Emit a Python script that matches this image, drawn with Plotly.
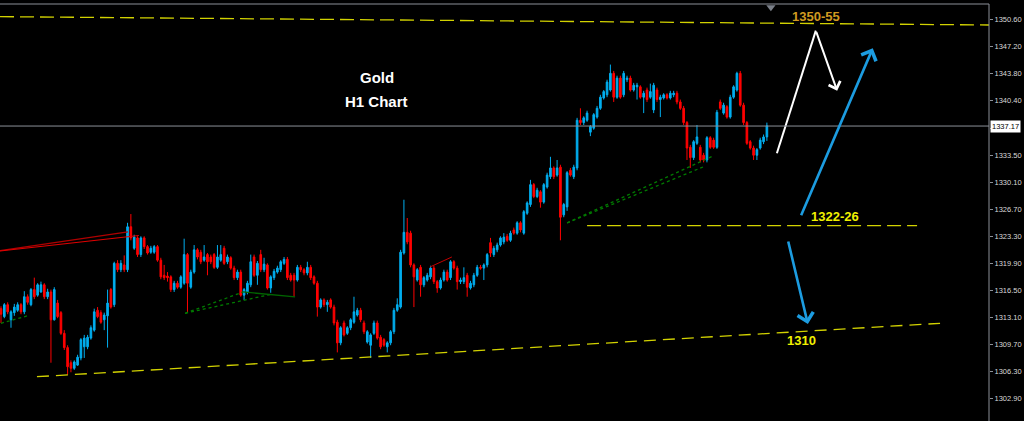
import plotly.graph_objects as go

# ---------------- data (prices) ----------------
OPEN = [
 1314.2,1313.2,1314.7,1312.8,1313.7,1314.0,1314.7,1313.8,1315.7,1314.7,
 1316.6,1315.9,1316.3,1317.2,1315.7,1316.3,1312.8,1314.9,1313.7,1311.1,
 1309.3,1307.4,1306.7,1307.1,1308.0,1309.4,1309.4,1310.5,1311.5,1314.0,
 1313.7,1312.8,1313.3,1316.6,1314.7,1319.9,1319.1,1319.7,1319.1,1324.5,
 1321.8,1323.1,1321.0,1323.1,1322.0,1321.3,1321.3,1322.0,1320.3,1318.4,
 1318.3,1318.2,1316.6,1317.4,1316.9,1317.4,1321.0,1316.9,1318.8,1321.6,
 1321.3,1320.3,1321.0,1320.7,1321.0,1319.4,1320.3,1321.8,1320.1,1320.6,
 1319.3,1318.1,1318.8,1315.9,1316.3,1317.2,1320.7,1318.4,1321.0,1319.1,
 1319.7,1316.8,1318.1,1318.8,1319.1,1319.9,1320.4,1318.4,1318.4,1317.8,
 1319.4,1319.1,1318.7,1319.4,1318.2,1317.4,1314.4,1315.3,1314.7,1315.3,
 1314.4,1312.5,1309.9,1312.4,1311.1,1311.8,1312.5,1313.4,1314.0,1312.4,
 1310.0,1309.6,1311.1,1312.4,1310.6,1310.3,1309.4,1309.9,1311.3,1314.0,
 1314.4,1321.2,1323.8,1323.7,1319.7,1317.8,1319.4,1317.2,1317.8,1318.2,
 1319.3,1317.6,1316.8,1317.8,1318.8,1318.1,1320.1,1319.3,1317.6,1317.6,
 1318.4,1316.8,1317.2,1318.4,1319.4,1319.3,1319.7,1322.5,1321.0,1321.6,
 1322.2,1322.6,1323.3,1322.8,1324.1,1323.7,1325.0,1323.7,1326.2,1327.3,
 1329.8,1328.3,1328.9,1327.6,1329.5,1330.8,1331.9,1331.0,1332.0,1326.0,
 1327.0,1331.6,1330.8,1331.9,1337.9,1337.6,1337.9,1336.4,1336.9,1338.3,
 1339.4,1340.7,1341.1,1341.7,1343.8,1340.8,1343.2,1341.1,1343.0,1343.2,
 1341.7,1342.1,1342.1,1340.8,1341.7,1340.8,1339.2,1341.7,1340.5,1340.7,
 1341.1,1340.7,1341.1,1341.3,1340.2,1339.4,1337.6,1334.5,1333.2,1335.0,
 1334.5,1333.5,1332.9,1335.7,1335.4,1334.5,1340.2,1338.8,1339.6,1338.3,
 1340.8,1341.7,1343.8,1339.8,1337.6,1335.2,1334.4,1333.5,1334.4,1335.2,
 1335.8]

HIGH = [
 1314.5,1314.9,1315.0,1314.0,1314.8,1315.0,1314.9,1316.4,1316.0,1316.8,
 1318.1,1317.4,1317.6,1317.4,1316.7,1316.6,1316.9,1315.3,1313.9,1311.5,
 1309.6,1307.7,1307.7,1308.4,1310.5,1310.9,1310.9,1312.1,1314.2,1314.4,
 1314.0,1313.7,1316.6,1316.8,1320.1,1320.3,1320.3,1320.9,1325.0,1326.1,
 1323.5,1323.3,1323.3,1323.3,1322.2,1322.1,1322.2,1322.2,1320.6,1319.7,
 1318.8,1318.4,1317.7,1317.7,1318.4,1323.0,1321.2,1319.1,1322.2,1321.8,
 1321.6,1322.2,1321.2,1321.0,1321.2,1322.2,1322.2,1322.1,1321.0,1320.8,
 1319.6,1319.1,1319.1,1316.8,1317.7,1321.0,1321.0,1320.2,1321.6,1320.6,
 1319.9,1318.4,1319.2,1319.6,1320.3,1320.7,1320.7,1318.7,1318.7,1319.7,
 1319.7,1319.3,1320.1,1319.7,1318.4,1317.7,1315.5,1315.5,1315.3,1315.5,
 1314.7,1312.8,1312.0,1312.7,1312.0,1313.0,1315.7,1314.3,1314.3,1312.7,
 1311.5,1311.1,1312.7,1312.7,1310.9,1310.5,1310.1,1311.5,1314.3,1315.5,
 1321.6,1327.9,1325.6,1324.0,1319.9,1319.3,1319.7,1318.3,1318.7,1319.6,
 1319.6,1317.8,1318.1,1319.1,1319.1,1320.3,1320.3,1319.6,1318.1,1319.4,
 1318.7,1317.7,1318.7,1319.7,1319.7,1319.9,1321.2,1323.1,1322.1,1322.5,
 1323.3,1323.7,1323.6,1324.0,1324.4,1325.2,1325.2,1326.6,1327.7,1330.4,
 1330.0,1329.4,1329.1,1330.0,1331.3,1333.3,1332.1,1332.9,1332.3,1327.5,
 1331.5,1331.9,1332.3,1338.2,1339.4,1338.4,1339.1,1337.3,1338.8,1339.7,
 1341.1,1341.7,1343.0,1344.9,1344.1,1343.5,1343.5,1344.1,1343.5,1343.5,
 1342.6,1342.6,1342.3,1341.6,1342.0,1342.5,1342.6,1342.0,1341.1,1341.3,
 1341.3,1341.6,1341.6,1341.6,1340.5,1339.7,1337.8,1334.8,1335.4,1337.3,
 1334.8,1333.8,1335.9,1335.9,1335.7,1339.2,1340.5,1340.1,1339.8,1341.1,
 1342.3,1344.0,1344.1,1340.1,1337.8,1335.4,1334.7,1334.4,1335.7,1336.1,
 1337.6]

LOW = [
 1312.4,1313.0,1313.5,1311.8,1313.3,1313.8,1313.5,1313.5,1314.7,1314.5,
 1315.4,1315.7,1316.2,1315.4,1315.4,1307.4,1312.7,1313.0,1310.9,1309.0,
 1305.9,1306.2,1306.5,1307.0,1307.7,1308.0,1309.1,1310.3,1311.3,1313.0,
 1312.3,1311.5,1309.3,1314.2,1314.4,1318.8,1318.8,1318.8,1318.8,1322.8,
 1321.6,1320.7,1320.7,1321.7,1321.0,1321.1,1321.1,1320.1,1317.9,1317.8,
 1317.6,1316.3,1316.3,1316.7,1316.7,1317.2,1313.7,1316.7,1318.6,1320.4,
 1319.8,1320.1,1318.4,1319.8,1319.2,1319.2,1320.1,1319.7,1319.8,1319.1,
 1317.8,1317.8,1315.7,1315.3,1316.0,1316.9,1318.2,1317.2,1318.8,1318.8,
 1316.6,1316.2,1317.8,1318.6,1318.8,1319.7,1317.8,1317.6,1315.7,1317.6,
 1318.8,1318.4,1318.4,1317.8,1317.2,1313.2,1314.2,1314.4,1313.8,1314.2,
 1312.1,1308.7,1309.6,1310.7,1310.9,1311.5,1312.3,1313.2,1312.5,1311.0,
 1309.8,1308.0,1310.9,1310.3,1309.1,1309.4,1308.7,1309.6,1311.0,1313.8,
 1314.2,1321.0,1322.3,1319.4,1314.4,1317.6,1315.7,1316.9,1317.6,1317.9,
 1317.3,1316.2,1316.6,1317.6,1317.6,1317.8,1319.1,1316.6,1317.3,1317.3,
 1315.7,1316.6,1316.9,1318.2,1319.1,1317.8,1319.4,1320.7,1320.7,1321.3,
 1322.0,1322.3,1322.6,1322.6,1323.5,1323.5,1323.8,1323.5,1326.0,1327.0,
 1328.1,1328.1,1326.9,1327.4,1329.3,1330.5,1330.5,1330.8,1322.8,1325.7,
 1326.5,1330.8,1330.5,1331.6,1337.3,1337.3,1337.7,1335.9,1336.7,1338.1,
 1339.2,1340.5,1340.8,1341.5,1340.2,1340.6,1340.6,1340.8,1342.7,1341.5,
 1341.5,1340.5,1340.6,1338.8,1340.2,1340.6,1338.8,1340.2,1338.3,1340.5,
 1340.5,1340.5,1340.8,1339.9,1339.2,1337.3,1332.9,1331.9,1332.9,1334.8,
 1332.6,1332.6,1332.6,1334.3,1334.3,1334.3,1339.2,1338.6,1338.1,1338.1,
 1340.6,1341.5,1339.6,1337.3,1334.8,1334.2,1332.9,1332.9,1334.2,1334.9,
 1335.3]

CLOSE = [
 1313.5,1314.7,1313.8,1313.8,1314.4,1314.7,1313.8,1315.7,1315.0,1316.6,
 1315.7,1317.2,1317.2,1315.7,1316.3,1312.8,1316.6,1313.2,1311.1,1309.3,
 1306.9,1306.7,1307.5,1308.1,1310.3,1310.5,1310.6,1311.8,1313.8,1313.2,
 1312.5,1313.4,1314.9,1314.4,1319.9,1319.1,1319.9,1319.1,1324.5,1323.1,
 1323.2,1321.0,1323.1,1322.0,1321.2,1321.8,1322.0,1320.3,1318.2,1318.1,
 1318.1,1316.6,1317.4,1316.9,1318.2,1321.0,1317.4,1318.8,1321.6,1320.7,
 1320.1,1320.7,1320.1,1320.1,1319.4,1320.7,1321.0,1319.9,1320.7,1319.3,
 1318.1,1318.8,1315.9,1316.6,1317.4,1320.1,1318.4,1319.9,1319.1,1319.8,
 1316.8,1318.2,1318.9,1319.3,1320.1,1320.4,1318.1,1317.8,1317.8,1319.4,
 1319.1,1318.7,1319.4,1318.1,1317.4,1314.4,1315.3,1314.7,1315.0,1314.4,
 1312.4,1309.9,1311.8,1310.9,1311.8,1312.8,1313.8,1314.0,1312.8,1311.3,
 1311.3,1310.9,1312.4,1310.5,1309.4,1309.6,1309.9,1311.3,1314.0,1314.7,
 1321.3,1323.8,1322.6,1319.7,1318.2,1319.1,1317.2,1318.1,1318.4,1319.3,
 1317.6,1316.8,1317.8,1318.8,1317.8,1320.1,1319.3,1317.6,1317.8,1318.1,
 1316.9,1317.4,1318.4,1319.4,1319.3,1319.7,1321.0,1321.2,1321.8,1322.2,
 1323.1,1323.2,1322.8,1323.7,1323.7,1325.0,1324.1,1326.4,1327.5,1329.8,
 1328.3,1329.1,1327.6,1329.8,1331.0,1331.9,1330.8,1331.9,1325.7,1327.3,
 1331.3,1331.0,1332.0,1337.9,1337.6,1338.2,1338.8,1337.1,1338.6,1339.4,
 1340.8,1341.5,1342.7,1343.8,1340.8,1343.2,1340.8,1343.8,1343.2,1341.7,
 1342.3,1342.3,1340.8,1341.3,1340.5,1341.5,1342.3,1340.5,1340.8,1341.1,
 1340.7,1341.3,1341.3,1340.2,1339.4,1337.6,1334.4,1333.2,1335.2,1335.8,
 1332.9,1332.9,1335.7,1334.5,1334.5,1338.9,1339.4,1339.8,1338.3,1340.8,
 1342.1,1343.8,1339.8,1337.6,1335.0,1334.4,1333.5,1334.2,1335.4,1335.8,
 1337.2]

TICK_VALUES = [1302.90, 1306.30, 1309.70, 1313.10, 1316.50, 1319.90, 1323.30,
               1326.70, 1330.10, 1333.50, 1336.90, 1340.40, 1343.80, 1347.20, 1350.60]
TICK_LABELS = ["1302.90", "1306.30", "1309.70", "1313.10", "1316.50", "1319.90", "1323.30",
               "1326.70", "1330.10", "1333.50", "", "1340.40", "1343.80", "1347.20", "1350.60"]
CURRENT_PRICE = 1337.17

# ---------------- styling ----------------
BLUE = "#00AEEF"
RED = "#FF0000"
YEL = "#D2D200"
ARROW_BLUE = "#1C9CE0"
GRAY = "#8C9098"
AXFONT = "Liberation Sans, Arial"

idx = list(range(len(CLOSE)))

fig = go.Figure()
fig.add_trace(go.Candlestick(
    x=idx, open=OPEN, high=HIGH, low=LOW, close=CLOSE,
    increasing=dict(line=dict(color=BLUE, width=1), fillcolor=BLUE),
    decreasing=dict(line=dict(color=RED, width=1), fillcolor=RED),
    whiskerwidth=0, showlegend=False, hoverinfo="skip"))

shapes = []
def seg(x0, y0, x1, y1, color, width=1, dash="solid"):
    shapes.append(dict(type="line", xref="x", yref="y", x0=x0, y0=y0, x1=x1, y1=y1,
                       line=dict(color=color, width=width, dash=dash), layer="above"))

# yellow dashed levels
seg(-0.3, 1350.93, 296.7, 1349.88, YEL, 1.3, "14px,6px")
seg(176.0, 1324.64, 275.1, 1324.64, YEL, 1.3, "14px,6px")
seg(10.8, 1305.64, 282.0, 1312.36, YEL, 1.3, "12px,7px")
# red trend lines
seg(-0.3, 1321.50, 38.1, 1323.85, "#B00000", 1.2)
seg(-0.3, 1321.45, 41.4, 1323.40, "#E00000", 1.2)
seg(128.8, 1319.44, 135.4, 1320.70, "#C00000", 1)
# green dotted lines
seg(0.0, 1312.36, 7.8, 1313.28, "#007A00", 1.3, "dot")
seg(55.3, 1313.62, 72.7, 1316.30, "#007A00", 1.3, "dot")
seg(55.3, 1313.62, 80.8, 1315.98, "#007A00", 1.3, "dot")
seg(72.7, 1316.30, 88.3, 1315.67, "#006400", 1.3)
seg(170.0, 1324.98, 213.8, 1333.41, "#007A00", 1.3, "dot")
seg(170.0, 1324.98, 210.8, 1332.02, "#007A00", 1.3, "dot")
# current price line
shapes.append(dict(type="line", xref="paper", yref="y", x0=0, x1=1, y0=CURRENT_PRICE, y1=CURRENT_PRICE,
                   line=dict(color=GRAY, width=1)))
# frame
shapes.append(dict(type="line", xref="paper", yref="paper", x0=1, x1=1, y0=0, y1=1,
                   line=dict(color=GRAY, width=1)))
shapes.append(dict(type="line", xref="paper", yref="paper", x0=0, x1=1, y0=1, y1=1,
                   line=dict(color=GRAY, width=1)))

# white arrow first leg
fig.add_trace(go.Scatter(x=[233.0, 244.7], y=[1333.75, 1349.17], mode="lines",
                         line=dict(color="white", width=2), showlegend=False, hoverinfo="skip"))
# scroll marker
fig.add_trace(go.Scatter(x=[231.2], y=[1352.1], mode="markers",
                         marker=dict(symbol="triangle-down", size=8, color="#7A7F88"),
                         showlegend=False, hoverinfo="skip", cliponaxis=False))

annotations = []
def arrow(xt, yt, xh, yh, color, width):
    annotations.append(dict(x=xh, y=yh, ax=xt, ay=yt, xref="x", yref="y", axref="x", ayref="y",
                            text="", showarrow=True, arrowhead=4, arrowsize=1.2,
                            arrowwidth=width, arrowcolor=color, standoff=0, startstandoff=0))

arrow(244.7, 1349.17, 251.1, 1341.62, "white", 2)
arrow(240.1, 1325.77, 261.8, 1346.95, ARROW_BLUE, 2.6)
arrow(236.3, 1322.84, 242.3, 1312.27, ARROW_BLUE, 2.6)

def label(x, y, text, color, size):
    annotations.append(dict(x=x, y=y, xref="x", yref="y", text="<b>%s</b>" % text, showarrow=False,
                            font=dict(family=AXFONT, size=size, color=color)))

label(112.9, 1343.22, "Gold", "white", 15)
label(112.9, 1340.32, "H1 Chart", "white", 15)
label(244.7, 1351.0, "1350-55", "#D09A20", 13)
label(250.5, 1325.73, "1322-26", "#F0F000", 13)
label(240.5, 1310.14, "1310", "#F0F000", 13)

annotations.append(dict(x=1, y=CURRENT_PRICE, xref="paper", yref="y", xanchor="left", xshift=1,
                        text="1337.17", showarrow=False, bgcolor="white", borderpad=1,
                        font=dict(family=AXFONT, size=7.5, color="black")))

fig.update_layout(
    width=1024, height=421,
    margin=dict(l=0, r=35, t=4, b=0),
    paper_bgcolor="black", plot_bgcolor="black",
    shapes=shapes, annotations=annotations,
    xaxis=dict(range=[-0.3, 296.7], visible=False, rangeslider=dict(visible=False),
               showgrid=False, zeroline=False),
    yaxis=dict(range=[1300.07, 1352.52], side="right", tickvals=TICK_VALUES, ticktext=TICK_LABELS,
               ticks="outside", ticklen=3, tickcolor=GRAY, showgrid=False, zeroline=False,
               showline=False, automargin=False,
               tickfont=dict(family=AXFONT, size=7.5, color="#D8D8D8")),
)

fig.write_html("out.html", config={"displayModeBar": False},
               post_script="document.body.style.margin='0';document.body.style.padding='0';"
                           "document.body.style.background='black';document.body.style.overflow='hidden';")
